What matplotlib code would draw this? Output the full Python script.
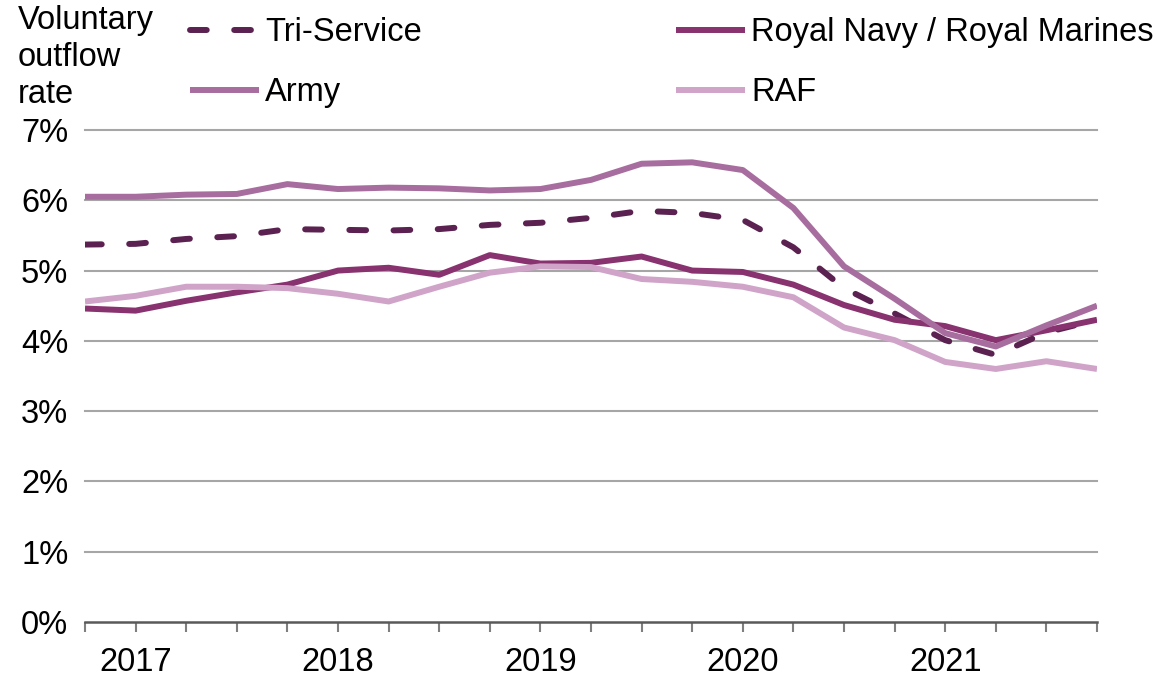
import matplotlib.pyplot as plt

plt.rcParams['font.family'] = ['Liberation Sans', 'DejaVu Sans']

# quarterly points, 21 of them; year labels sit on every 4th tick starting at 1
years = ['2017', '2018', '2019', '2020', '2021']
year_pos = [1, 5, 9, 13, 17]

tri_service = [5.37, 5.38, 5.45, 5.49, 5.59, 5.58, 5.57, 5.59, 5.65, 5.68, 5.75,
               5.85, 5.82, 5.72, 5.33, 4.75, 4.39, 4.01, 3.80, 4.12, 4.30]
royal_navy = [4.46, 4.43, 4.57, 4.69, 4.80, 5.00, 5.04, 4.94, 5.22, 5.10, 5.11,
              5.20, 5.00, 4.98, 4.80, 4.51, 4.30, 4.21, 4.01, 4.15, 4.30]
army = [6.05, 6.05, 6.08, 6.09, 6.23, 6.16, 6.18, 6.17, 6.14, 6.16, 6.29,
        6.52, 6.54, 6.43, 5.89, 5.06, 4.60, 4.11, 3.92, 4.22, 4.50]
raf = [4.56, 4.64, 4.77, 4.77, 4.75, 4.67, 4.56, 4.77, 4.97, 5.06, 5.05,
       4.88, 4.84, 4.77, 4.62, 4.19, 4.01, 3.70, 3.60, 3.71, 3.60]

x = list(range(len(army)))
fs = 23.5

fig = plt.figure(figsize=(11.58, 6.76), dpi=100)
ax = fig.add_axes([85 / 1158, 1 - 622 / 676, (1097 - 85) / 1158, (622 - 130) / 676])

lw = 4.3
l_tri, = ax.plot(x, tri_service, color='#5B2251', lw=lw, dashes=(2.8, 4.6),
                 dash_capstyle='round', label='Tri-Service', zorder=3)
l_rn, = ax.plot(x, royal_navy, color='#88326F', lw=lw, label='Royal Navy / Royal Marines',
                solid_capstyle='butt', zorder=4)
l_army, = ax.plot(x, army, color='#A86D9F', lw=lw, label='Army',
                  solid_capstyle='butt', zorder=5)
l_raf, = ax.plot(x, raf, color='#D0A4C9', lw=lw, label='RAF',
                 solid_capstyle='butt', zorder=6)

ax.set_xlim(0, 20)
ax.set_ylim(0, 7)

ax.set_yticks(range(8))
ax.set_yticklabels([f'{v}%' for v in range(8)])
ax.tick_params(axis='y', length=0, pad=12, labelsize=fs)

ax.set_xticks(x)
labels = [''] * len(x)
for p, yr in zip(year_pos, years):
    labels[p] = yr
ax.set_xticklabels(labels)
ax.tick_params(axis='x', length=7, width=1.5, color='#7F7F7F', pad=11, labelsize=fs)

for v in range(1, 8):
    ax.axhline(v, color='#A6A6A6', lw=1.5, zorder=1, clip_on=False)

for s in ['top', 'right', 'left']:
    ax.spines[s].set_visible(False)
ax.spines['bottom'].set_color('#595959')
ax.spines['bottom'].set_linewidth(1.8)

fig.text(18 / 1158, 1 - 5 / 676, 'Voluntary\noutflow\nrate', fontsize=fs,
         va='top', ha='left', linespacing=1.25)

ax.legend([l_tri, l_army, l_rn, l_raf],
          ['Tri-Service', 'Army', 'Royal Navy / Royal Marines', 'RAF'],
          ncol=2, fontsize=fs, frameon=False, loc='upper left',
          bbox_to_anchor=(190 / 1158, 1 - 17 / 676), bbox_transform=fig.transFigure,
          handlelength=2.1, handletextpad=0.2, labelspacing=0.89,
          columnspacing=7.8, borderaxespad=0, borderpad=0)

fig.savefig('out.png', dpi=100)
